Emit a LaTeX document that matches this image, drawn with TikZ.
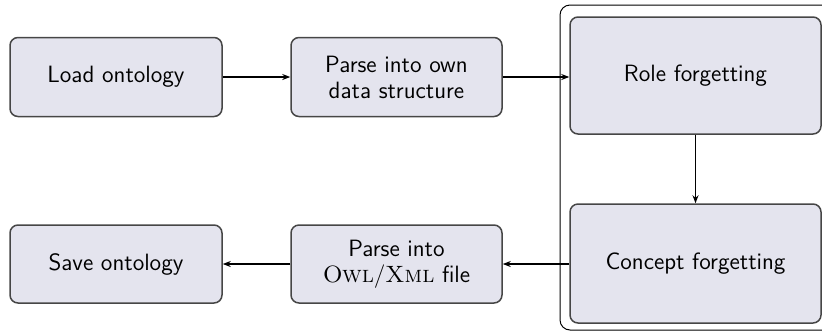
\documentclass[tikz,border=0pt]{standalone}
\usepackage{fontspec}
\usetikzlibrary{arrows.meta}
\definecolor{boxfill}{RGB}{228,228,238}
\definecolor{boxline}{RGB}{70,70,70}
\begin{document}
\begin{tikzpicture}[x=0.5pt,y=-0.5pt,
  stepbox/.style={draw=boxline,line width=0.75pt,fill=boxfill,rounded corners=4pt,
    align=center,inner sep=0pt,font=\sffamily\fontsize{11.8}{13}\selectfont},
  flow/.style={-{Stealth[length=4pt,width=3pt]},line width=0.7pt}]
\clip (0,0) rectangle (822,333);
% container round the forgetting steps
\node[draw=black,line width=0.5pt,rounded corners=5pt,minimum width=140pt,minimum height=162.5pt,inner sep=0pt]
  (frame) at (700,167.5) {};
% steps
\node[stepbox,minimum width=106pt,minimum height=39.5pt] (load) at (116,77) {Load ontology};
\node[stepbox,minimum width=105.5pt,minimum height=39.5pt] (parse) at (396.5,77) {Parse into own\\data structure};
\node[stepbox,minimum width=125.5pt,minimum height=58.5pt] (role) at (695.5,75.5) {Role forgetting};
\node[stepbox,minimum width=125.5pt,minimum height=59.5pt] (concept) at (695.5,263.5) {Concept forgetting};
\node[stepbox,minimum width=105.5pt,minimum height=39pt] (owl) at (396.5,264) {Parse into\\\textrm{\textsc{Owl}/\textsc{Xml}} file};
\node[stepbox,minimum width=106pt,minimum height=39pt] (save) at (116,264) {Save ontology};
% connectors
\draw[flow] (load) -- (parse);
\draw[flow] (parse.east) -- (role.west |- parse.east);
\draw[flow] (role) -- (concept);
\draw[flow] (concept.west |- owl.east) -- (owl.east);
\draw[flow] (owl) -- (save);
\end{tikzpicture}
\end{document}
